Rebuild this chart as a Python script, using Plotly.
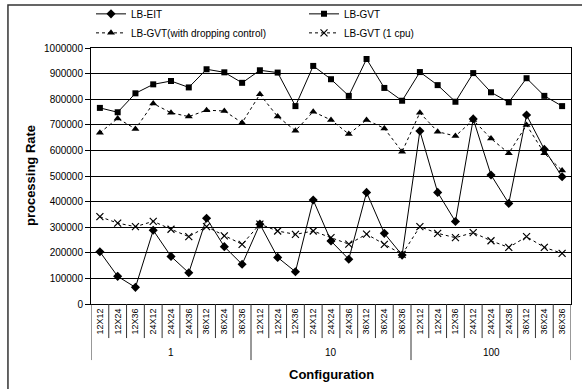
import plotly.graph_objects as go

groups = ["1", "10", "100"]
configs = ["12X12", "12X24", "12X36", "24X12", "24X24", "24X36", "36X12", "36X24", "36X36"]

lb_eit = [204000, 108000, 65000, 288000, 186000, 122000, 335000, 224000, 155000,
          312000, 182000, 126000, 406000, 246000, 175000, 436000, 276000, 191000,
          676000, 436000, 322000, 723000, 504000, 393000, 738000, 604000, 497000]
lb_gvt = [766000, 749000, 823000, 858000, 871000, 846000, 917000, 905000, 864000,
          913000, 904000, 773000, 930000, 878000, 813000, 957000, 844000, 794000,
          906000, 855000, 790000, 902000, 827000, 788000, 882000, 813000, 773000]
lb_gvt_drop = [669000, 725000, 684000, 783000, 747000, 732000, 757000, 754000, 708000,
               819000, 732000, 677000, 751000, 719000, 664000, 719000, 686000, 595000,
               747000, 673000, 656000, 719000, 646000, 589000, 699000, 589000, 521000]
lb_gvt_1cpu = [341000, 316000, 302000, 323000, 292000, 263000, 302000, 266000, 233000,
               312000, 285000, 272000, 285000, 259000, 234000, 273000, 233000, 194000,
               302000, 276000, 259000, 279000, 247000, 221000, 263000, 221000, 198000]

tick_labels = [c for g in groups for c in configs]
xs = list(range(len(tick_labels)))

FONT = "Liberation Sans, Arial, sans-serif"

fig = go.Figure()
fig.add_trace(go.Scatter(x=xs, y=lb_eit, name="LB-EIT", mode="lines+markers",
                         line=dict(color="black", width=1),
                         marker=dict(symbol="diamond", size=7, color="black")))
fig.add_trace(go.Scatter(x=xs, y=lb_gvt, name="LB-GVT", mode="lines+markers",
                         line=dict(color="black", width=1),
                         marker=dict(symbol="square", size=6, color="black")))
fig.add_trace(go.Scatter(x=xs, y=lb_gvt_drop, name="LB-GVT(with dropping control)", mode="lines+markers",
                         line=dict(color="black", width=1, dash="dot"),
                         marker=dict(symbol="triangle-up", size=7, color="black")))
fig.add_trace(go.Scatter(x=xs, y=lb_gvt_1cpu, name="LB-GVT (1 cpu)", mode="lines+markers",
                         line=dict(color="black", width=1, dash="dot"),
                         marker=dict(symbol="x-thin-open", size=7, color="black",
                                     line=dict(color="black", width=1.2))))

n = len(tick_labels)
shapes = []
for i in range(n + 1):
    is_group = (i % len(configs) == 0)
    shapes.append(dict(type="line", xref="x", yref="paper", x0=i - 0.5, x1=i - 0.5,
                       y0=0, y1=-0.219 if is_group else -0.133,
                       line=dict(color="#333", width=1)))
# outer chart border (left and top visible)
shapes.append(dict(type="rect", xref="paper", yref="paper", x0=-0.173, x1=1.2, y0=-0.6, y1=1.168,
                   line=dict(color="#333", width=1.5), layer="below"))

annotations = []
for gi, g in enumerate(groups):
    annotations.append(dict(x=gi * len(configs) + (len(configs) - 1) / 2, y=-0.1875,
                            xref="x", yref="paper", text=g, showarrow=False,
                            font=dict(family=FONT, size=10, color="black"),
                            xanchor="center", yanchor="middle"))
annotations.append(dict(x=0.5, y=-0.277, xref="paper", yref="paper", text="<b>Configuration</b>",
                        showarrow=False, font=dict(family=FONT, size=13, color="black"),
                        xanchor="center", yanchor="middle"))
annotations.append(dict(x=-0.127, y=0.5, xref="paper", yref="paper", text="<b>processing Rate</b>",
                        showarrow=False, textangle=-90, font=dict(family=FONT, size=13, color="black"),
                        xanchor="center", yanchor="middle"))

fig.update_layout(
    width=582, height=389,
    margin=dict(l=91, r=11, t=48, b=85, autoexpand=False),
    paper_bgcolor="white", plot_bgcolor="white",
    font=dict(family=FONT, size=10, color="black"),
    showlegend=True,
    legend=dict(orientation="h", x=0.0, y=1.19, xanchor="left", yanchor="top",
                entrywidth=168, entrywidthmode="pixels", itemwidth=30,
                font=dict(family=FONT, size=10, color="black"),
                bgcolor="rgba(0,0,0,0)", tracegroupgap=0),
    xaxis=dict(range=[-0.5, n - 0.5], tickmode="array", tickvals=xs, ticktext=tick_labels,
               tickangle=-90, ticks="", showgrid=False, zeroline=False,
               showline=True, linecolor="black", linewidth=1, mirror=True,
               tickfont=dict(family=FONT, size=9, color="black")),
    yaxis=dict(range=[0, 1000000], dtick=100000, tick0=0, tickformat="d",
               showgrid=True, gridcolor="black", gridwidth=1, zeroline=False,
               showline=True, linecolor="black", linewidth=1, mirror=True,
               ticks="outside", ticklen=5, tickcolor="black",
               tickfont=dict(family=FONT, size=10, color="black")),
    shapes=shapes, annotations=annotations,
)

fig.write_html("out.html", config={"displayModeBar": False},
               post_script="document.body.style.margin='0';document.body.style.overflow='hidden';")
